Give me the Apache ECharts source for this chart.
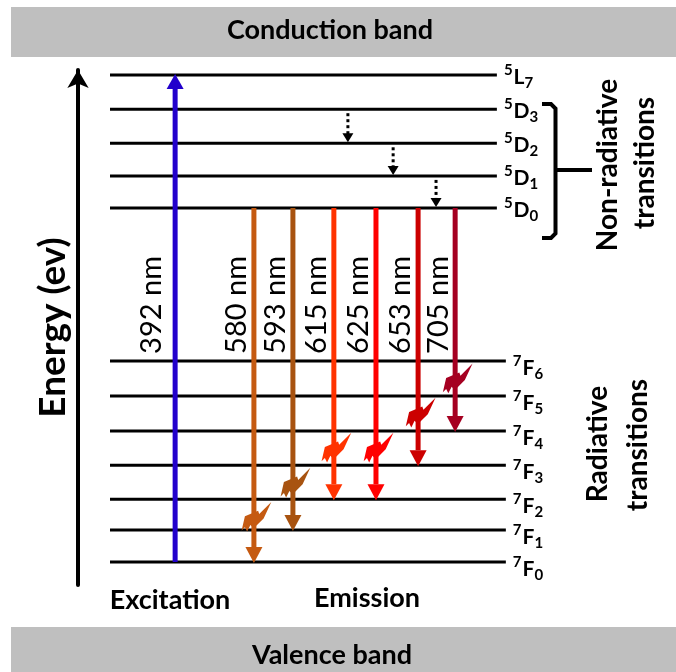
<!DOCTYPE html>
<html><head><meta charset="utf-8">
<script src="https://cdn.jsdelivr.net/npm/echarts@6/dist/echarts.min.js"></script>
<style>html,body{margin:0;padding:0;background:#fff}#c{width:676px;height:672px}</style>
</head><body><div id="c"></div>
<script>
// ---- data ----
const levelMult   = [5, 5, 5, 5, 5, 7, 7, 7, 7, 7, 7, 7];
const levelLetter = ['L','D','D','D','D','F','F','F','F','F','F','F'];
const levelJ      = [7, 3, 2, 1, 0, 6, 5, 4, 3, 2, 1, 0];
const levelEnergy = [100, 93.0, 86.0, 79.3, 72.7, 41.3, 34.1, 26.9, 19.9, 12.9, 6.6, 0];

const transLabels = ['392 nm','580 nm','593 nm','615 nm','625 nm','653 nm','705 nm'];
const transSlot   = [16.7, 36.9, 46.9, 57.4, 68.2, 79.0, 88.5];
const transFrom   = ['7F0','5D0','5D0','5D0','5D0','5D0','5D0'];
const transTo     = ['5L7','7F0','7F1','7F2','7F2','7F3','7F4'];
const transBolt   = [null, 9.2, 16.2, 23.4, 23.4, 30.6, 37.6];
const transColors = ['#2200cc','#c55a11','#a85310','#ff3300','#ff0000','#cc0000','#a50021'];

const nonRadSlot = [61.0, 72.6, 83.6];
const nonRadFrom = ['5D3','5D2','5D1'];
const nonRadTo   = ['5D2','5D1','5D0'];

// ---- helpers ----
const FONT = 'Lato';
const levelKey = levelMult.map((m,i)=> m + levelLetter[i] + levelJ[i]);
const E = k => levelEnergy[levelKey.indexOf(k)];
const mctx = document.createElement('canvas').getContext('2d');
function measure(t, f){ mctx.font = f; return mctx.measureText(t).width; }

function renderLevel(params, api){
  const i = api.value(2), e = api.value(1);
  const isF = levelMult[i] === 7;
  const a = api.coord([0, e]), b = api.coord([isF ? 101.5 : 99.2, e]);
  const lx = b[0] + 7, ly = a[1] + (isF ? 7 : 2);
  const supT = String(levelMult[i]), mT = levelLetter[i], subT = String(levelJ[i]);
  const supW = measure(supT, 'bold 15px ' + FONT);
  const mW = measure(mT, 'bold 21px ' + FONT);
  return {type:'group', children:[
    {type:'line', shape:{x1:a[0], y1:a[1], x2:b[0], y2:b[1]}, style:{stroke:'#000', lineWidth:3}},
    {type:'text', style:{text:supT, x:lx, y:ly-7, fontSize:15, fontWeight:'bold', fontFamily:FONT, fill:'#000', align:'left', verticalAlign:'middle'}},
    {type:'text', style:{text:mT, x:lx+supW+1, y:ly, fontSize:21, fontWeight:'bold', fontFamily:FONT, fill:'#000', align:'left', verticalAlign:'middle'}},
    {type:'text', style:{text:subT, x:lx+supW+mW+1, y:ly+6, fontSize:15, fontWeight:'bold', fontFamily:FONT, fill:'#000', align:'left', verticalAlign:'middle'}}
  ]};
}

const boltPts = [[14,-14],[3,-3],[2,-6],[-10,-1],[-13,12],[-10,9],[-8,13],[-5,7],[-2,10],[7,1]];
const BS = 1.1;

function renderTrans(params, api){
  const i = params.dataIndex;
  const x = api.value(0), e0 = api.value(1), e1 = api.value(2);
  const p0 = api.coord([x, e0]), p1 = api.coord([x, e1]);
  const dir = p1[1] > p0[1] ? 1 : -1;
  const up = dir < 0;
  const hl = up ? 14 : 15, hw = 8.5;
  const col = transColors[i];
  const ch = [
    {type:'line', shape:{x1:p0[0], y1:p0[1], x2:p1[0], y2:p1[1]-dir*hl}, style:{stroke:col, lineWidth:5}},
    {type:'polygon', shape:{points:[[p1[0], p1[1]+dir*1],[p1[0]-hw, p1[1]-dir*hl],[p1[0]+hw, p1[1]-dir*hl]]}, style:{fill:col}}
  ];
  if (transBolt[i] != null){
    const c = api.coord([x, transBolt[i]]);
    ch.push({type:'polygon', shape:{points: boltPts.map(p=>[c[0]+p[0]*BS+2, c[1]+p[1]*BS])}, style:{fill:col}});
  }
  const lc = api.coord([x, 52.8]);
  ch.push({type:'text', x: lc[0] + (up ? -23 : -17), y: lc[1], rotation: Math.PI/2,
    style:{text: transLabels[i], fontSize:29, fontFamily:FONT, fill:'#000', align:'center', verticalAlign:'middle'}});
  return {type:'group', children: ch};
}

function renderNonRad(params, api){
  const x = api.value(0), e0 = api.value(1), e1 = api.value(2);
  const p0 = api.coord([x, e0]), p1 = api.coord([x, e1]);
  return {type:'group', children:[
    {type:'line', shape:{x1:p0[0], y1:p0[1]+4, x2:p1[0], y2:p1[1]-9}, style:{stroke:'#000', lineWidth:3, lineDash:[3,3]}},
    {type:'polygon', shape:{points:[[p1[0], p1[1]-1],[p1[0]-5.5, p1[1]-10],[p1[0]+5.5, p1[1]-10]]}, style:{fill:'#000'}}
  ]};
}

const boldText = (t, x, y, size, rot) => ({type:'text', x:x, y:y, rotation: rot || 0,
  style:{text:t, fontSize:size, fontWeight:'bold', fontFamily:FONT, fill:'#000', align:'center', verticalAlign:'middle'}});

const option = {
  animation: false,
  grid: {left:110, top:70, width:390, height:515},
  xAxis: {type:'value', min:0, max:100, show:false},
  yAxis: {type:'value', min:-4.7, max:101.05, offset:32,
    axisLine:{show:true, onZero:false, lineStyle:{color:'#000', width:4}, symbol:['none','arrow'], symbolSize:[16,18]},
    axisTick:{show:false}, axisLabel:{show:false}, splitLine:{show:false},
    name:'Energy (ev)', nameLocation:'middle', nameRotate:90, nameGap:6,
    nameTextStyle:{fontFamily:FONT, fontWeight:'bold', fontSize:37, color:'#000'}},
  graphic: [
    {type:'rect', shape:{x:11, y:7, width:665, height:50}, style:{fill:'#bfbfbf'}},
    {type:'rect', shape:{x:11, y:627, width:665, height:45}, style:{fill:'#bfbfbf'}},
    boldText('Conduction band', 330, 30, 27),
    boldText('Valence band', 332, 655, 27),
    boldText('Excitation', 170, 600, 27),
    boldText('Emission', 367, 598, 27),
    boldText('Non-radiative', 608, 165, 28, Math.PI/2),
    boldText('transitions', 645, 163, 28, Math.PI/2),
    boldText('Radiative', 598, 444, 28, Math.PI/2),
    boldText('transitions', 638, 445, 28, Math.PI/2),
    {type:'polyline', shape:{points:[[542,104],[551,104],[555.5,108.5],[555.5,233.5],[551,238],[542,238]]}, style:{stroke:'#000', lineWidth:4, fill:null}},
    {type:'line', shape:{x1:555, y1:170, x2:592, y2:170}, style:{stroke:'#000', lineWidth:4}}
  ],
  series: [
    {type:'custom', renderItem: renderLevel, data: levelEnergy.map((e,i)=>[0,e,i]), encode:{x:0, y:1}, silent:true},
    {type:'custom', renderItem: renderNonRad, data: nonRadSlot.map((x,i)=>[x, E(nonRadFrom[i]), E(nonRadTo[i])]), encode:{x:0, y:[1,2]}, silent:true},
    {type:'custom', renderItem: renderTrans, data: transSlot.map((x,i)=>[x, E(transFrom[i]), E(transTo[i])]), encode:{x:0, y:[1,2]}, silent:true}
  ]
};
const chart = echarts.init(document.getElementById('c'));
chart.setOption(option);
</script></body></html>
